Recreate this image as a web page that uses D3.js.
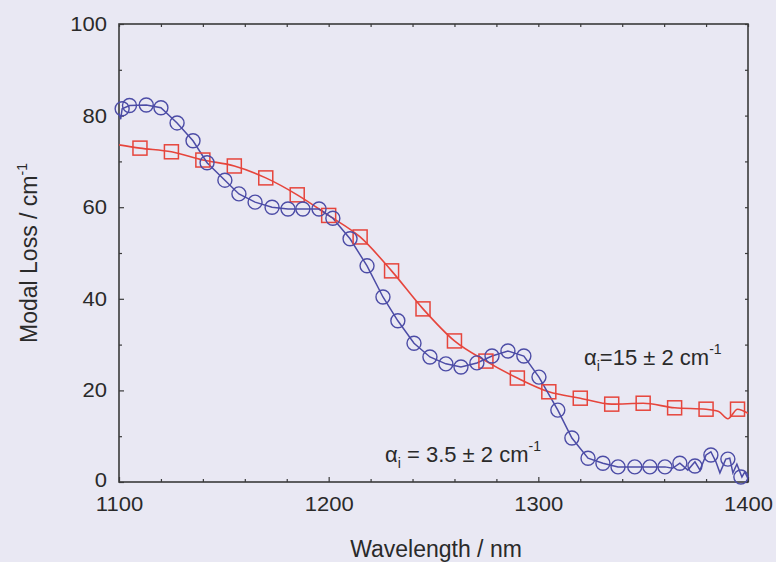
<!DOCTYPE html>
<html><head><meta charset="utf-8">
<script src="https://cdn.jsdelivr.net/npm/d3@7"></script>
<style>
html,body{margin:0;padding:0;background:#e9e8f3;}
svg{display:block;}
text{font-family:"Liberation Sans",Arial,sans-serif;fill:#2a2a2a;}
</style></head>
<body>
<svg id="chart" width="776" height="562"></svg>
<script>
// ---- data ----
const xMajorTicks = [1100, 1200, 1300, 1400];
const xMinorTicks = [1120,1140,1160,1180,1220,1240,1260,1280,1320,1340,1360,1380];
const yMajorTicks = [0, 20, 40, 60, 80, 100];
const yMinorTicks = [10, 30, 50, 70, 90];

const blueMarkerX = [1101.5,1105,1113,1120,1127.7,1135.3,1142,1150.5,1157.2,1164.9,1173,1180.6,1187.7,1195.4,1202,1210.2,1218.3,1225.9,1233,1240.7,1248.3,1255.9,1263.1,1270.7,1277.9,1285.5,1293.1,1300.3,1309.3,1316,1323.7,1330.8,1338,1346,1353.2,1360.4,1367.5,1374.7,1382.3,1390.4,1396.6];
const blueMarkerY = [81.5,82.2,82.3,81.7,78.4,74.5,69.7,65.9,62.9,61.1,60.0,59.6,59.6,59.6,57.6,53.1,47.2,40.4,35.2,30.3,27.3,25.8,25.1,26.0,27.5,28.6,27.5,22.9,15.7,9.6,5.2,4.1,3.3,3.3,3.3,3.3,4.1,3.5,5.9,5.0,1.1];

const blueLineX = [1100,1100.8,1101.5,1105,1113,1120,1127.7,1135.3,1142,1150.5,1157.2,1164.9,1173,1180.6,1187.7,1195.4,1202,1210.2,1218.3,1225.9,1233,1240.7,1248.3,1255.9,1263.1,1270.7,1277.9,1285.5,1293.1,1300.3,1309.3,1316,1323.7,1330.8,1338,1346,1353.2,1360.4,1364,1367.5,1371.3,1374.7,1377.1,1380,1382.3,1384.7,1386.6,1389.4,1391.3,1392.8,1394.7,1397.1,1398.5,1400];
const blueLineY = [80.5,79.2,81.5,82.2,82.3,81.7,78.4,74.5,69.7,65.9,62.9,61.1,60.0,59.6,59.6,59.6,57.6,53.1,47.2,40.4,35.2,30.3,27.3,25.8,25.1,26.0,27.5,28.6,27.5,22.9,15.7,9.6,5.2,4.1,3.3,3.3,3.3,3.3,3.0,4.1,2.6,4.4,2.6,5.9,6.6,4.4,2.0,5.0,5.2,2.0,3.9,1.1,2.2,0.7];

const redMarkerX = [1110,1125,1140,1155,1170,1185,1200,1215,1230,1245,1260,1275,1290,1305,1320,1335,1350,1365,1380,1395];
const redMarkerY = [72.9,72.1,70.3,69.0,66.4,62.7,58.2,53.5,46.1,37.8,30.8,26.4,22.7,19.7,18.3,17.0,17.2,16.2,15.9,15.9];

const redLineX = [1100,1110,1125,1140,1155,1170,1185,1200,1215,1230,1245,1260,1275,1290,1305,1320,1335,1350,1365,1380,1386,1390.4,1395,1400];
const redLineY = [73.6,72.9,72.1,70.3,69.0,66.4,62.7,58.2,53.5,46.1,37.8,30.8,26.4,22.7,19.7,18.3,17.0,17.2,16.2,15.9,15.4,13.8,15.9,15.0];

// ---- layout ----
const svg = d3.select("#chart");
const L = 119, R = 748, T = 24, B = 482;
const x = d3.scaleLinear().domain([1100, 1400]).range([L, R]);
const y = d3.scaleLinear().domain([0, 100]).range([B, T]);
const axisColor = "#3a3a3a";
const blue = "#4c4ca6", red = "#e6453c";

// frame
svg.append("rect").attr("x", L).attr("y", T).attr("width", R - L).attr("height", B - T)
  .attr("fill", "none").attr("stroke", axisColor).attr("stroke-width", 1.6);

function styleAxis(g){
  g.select(".domain").remove();
  g.selectAll(".tick line").attr("stroke", axisColor).attr("stroke-width", 1.2);
  g.selectAll("text").attr("font-size", 20).style("fill", "#2a2a2a")
    .each(function(){
      const w = this.getComputedTextLength();
      if (w > 0) d3.select(this).attr("textLength", w * 1.1).attr("lengthAdjust", "spacingAndGlyphs");
    });
}
// bottom
svg.append("g").attr("transform", `translate(0,${B})`)
  .call(d3.axisBottom(x).tickValues(xMajorTicks).tickSize(-5).tickPadding(15).tickFormat(d3.format("d")))
  .call(styleAxis);
svg.append("g").attr("transform", `translate(0,${B})`)
  .call(d3.axisBottom(x).tickValues(xMinorTicks).tickSize(-3).tickFormat(""))
  .call(styleAxis);
// top
svg.append("g").attr("transform", `translate(0,${T})`)
  .call(d3.axisTop(x).tickValues(xMajorTicks.concat(xMinorTicks)).tickSize(-3).tickFormat(""))
  .call(styleAxis);
// left
const yAx = svg.append("g").attr("transform", `translate(${L},0)`)
  .call(d3.axisLeft(y).tickValues(yMajorTicks).tickSize(-5).tickPadding(12).tickFormat(d3.format("d")))
  .call(styleAxis);
yAx.selectAll(".tick text").filter(d => d === 0).attr("y", -2);
svg.append("g").attr("transform", `translate(${L},0)`)
  .call(d3.axisLeft(y).tickValues(yMinorTicks).tickSize(-3).tickFormat(""))
  .call(styleAxis);
// right
svg.append("g").attr("transform", `translate(${R},0)`)
  .call(d3.axisRight(y).tickValues(yMajorTicks.concat(yMinorTicks)).tickSize(-3).tickFormat(""))
  .call(styleAxis);

// clip
svg.append("clipPath").attr("id", "clip").append("rect")
  .attr("x", L).attr("y", T).attr("width", R - L).attr("height", B - T);
const plot = svg.append("g").attr("clip-path", "url(#clip)");

const line = d3.line().x(d => x(d[0])).y(d => y(d[1]));
const redLine = d3.line().x(d => x(d[0])).y(d => y(d[1])).curve(d3.curveMonotoneX);

plot.append("path").datum(redLineX.map((v, i) => [v, redLineY[i]]))
  .attr("d", redLine).attr("fill", "none").attr("stroke", red).attr("stroke-width", 1.6);
plot.append("path").datum(blueLineX.map((v, i) => [v, blueLineY[i]]))
  .attr("d", line).attr("fill", "none").attr("stroke", blue).attr("stroke-width", 1.5);

const sq = 14;
svg.append("g").selectAll("rect").data(redMarkerX.map((v, i) => [v, redMarkerY[i]])).join("rect")
  .attr("x", d => x(d[0]) - sq / 2).attr("y", d => y(d[1]) - sq / 2)
  .attr("width", sq).attr("height", sq)
  .attr("fill", "none").attr("stroke", red).attr("stroke-width", 1.5);

svg.append("g").selectAll("circle").data(blueMarkerX.map((v, i) => [v, blueMarkerY[i]])).join("circle")
  .attr("cx", d => x(d[0])).attr("cy", d => y(d[1])).attr("r", 7)
  .attr("fill", "none").attr("stroke", blue).attr("stroke-width", 1.4);

// annotations
function alphaLabel(xp, yp, body){
  const t = svg.append("text").attr("x", xp).attr("y", yp).attr("font-size", 22);
  t.append("tspan").text("α");
  t.append("tspan").attr("font-size", 14).attr("dy", 6).text("i");
  t.append("tspan").attr("dy", -6).text(body);
  t.append("tspan").attr("font-size", 14).attr("dy", -11).text("-1");
}
alphaLabel(584, 365, "=15 ± 2 cm");
alphaLabel(385, 462, " = 3.5 ± 2 cm");

// axis titles
svg.append("text").attr("x", 436).attr("y", 557).attr("text-anchor", "middle")
  .attr("font-size", 23).text("Wavelength / nm");
const yt = svg.append("text").attr("transform", `translate(37,${(T + B) / 2}) rotate(-90)`)
  .attr("text-anchor", "middle").attr("font-size", 23);
yt.append("tspan").text("Modal Loss / cm");
yt.append("tspan").attr("font-size", 14).attr("dy", -10).text("-1");
</script>
</body></html>
